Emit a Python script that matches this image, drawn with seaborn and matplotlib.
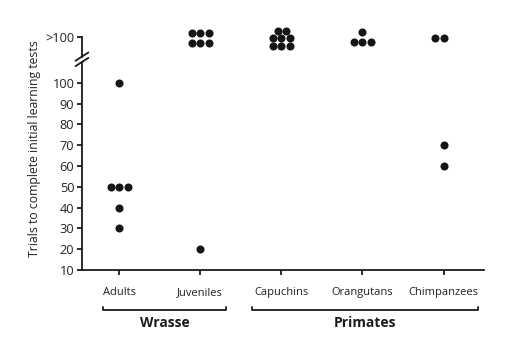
import matplotlib
matplotlib.use("Agg")
import matplotlib.pyplot as plt
import seaborn as sns
import pandas as pd
from matplotlib.lines import Line2D

sns.set_style("ticks")
plt.rcParams['font.family'] = ['Open Sans', 'DejaVu Sans']

categories = ["Adults", "Juveniles", "Capuchins", "Orangutans", "Chimpanzees"]
# ">100" results are plotted in the break region above the axis break
adults = [100, 50, 50, 50, 40, 30]
juveniles = [124, 124, 124, 119, 119, 119, 20]
capuchins = [125, 125, 121.5, 121.5, 121.5, 117.5, 117.5, 117.5]
orangutans = [124.5, 119.5, 119.5, 119.5]
chimpanzees = [121.5, 121.5, 70, 60]
ytick_vals = [10, 20, 30, 40, 50, 60, 70, 80, 90, 100, 122]
ytick_labels = ["10", "20", "30", "40", "50", "60", "70", "80", "90", "100", ">100"]
groups = ["Wrasse", "Primates"]

rows = []
for cat, vals in zip(categories, [adults, juveniles, capuchins, orangutans, chimpanzees]):
    for v in vals:
        rows.append({"group": cat, "trials": v})
df = pd.DataFrame(rows)

fig = plt.figure(figsize=(5.09, 3.51), dpi=100)
ax = fig.add_axes([0.161, 0.231, 0.790, 0.693])

sns.swarmplot(data=df, x="group", y="trials", order=categories, color="#151515",
              size=5.8, ax=ax, linewidth=0)

ax.set_xlim(-0.46, 4.5)
ax.set_ylim(10, 127)
ax.set_yticks(ytick_vals)
ax.set_yticklabels(ytick_labels, fontsize=9.2, color="#222222")
ax.set_xticks(range(len(categories)))
ax.set_xticklabels(categories, fontsize=8.0, color="#222222")
ax.set_xlabel("")
ax.set_ylabel("Trials to complete initial learning tests", fontsize=8.8, color="#222222", labelpad=3)

for s in ["top", "right"]:
    ax.spines[s].set_visible(False)
ax.spines["left"].set_bounds(10, 122)
ax.spines["left"].set_linewidth(1.3)
ax.spines["bottom"].set_linewidth(1.3)
ax.spines["left"].set_color("#1a1a1a")
ax.spines["bottom"].set_color("#1a1a1a")
ax.tick_params(axis="both", direction="out", length=3.5, width=1.3, color="#1a1a1a", pad=2)
ax.tick_params(axis="x", pad=9)

# axis break marks
tr = ax.get_yaxis_transform()
ax.add_line(Line2D([-0.006, 0.006], [111.3, 111.3], transform=tr, color="white", lw=2.5, clip_on=False, zorder=5))
for yb in [110.0, 112.6]:
    ax.add_line(Line2D([-0.016, 0.016], [yb - 2.0, yb + 2.0], transform=tr, color="#1a1a1a",
                       lw=1.3, clip_on=False, zorder=6))

# group brackets
btr = ax.get_xaxis_transform()
brackets = [(-0.2, 1.32), (1.64, 4.43)]
for (x0, x1), name in zip(brackets, groups):
    ax.add_line(Line2D([x0, x0, x1, x1], [-0.152, -0.166, -0.166, -0.152], transform=btr,
                       color="#1a1a1a", lw=1.3, clip_on=False))
    ax.text((x0 + x1) / 2, -0.19, name, transform=btr, ha="center", va="top",
            fontsize=10, fontweight="bold", color="#1a1a1a")

fig.savefig("out.png", dpi=100)
